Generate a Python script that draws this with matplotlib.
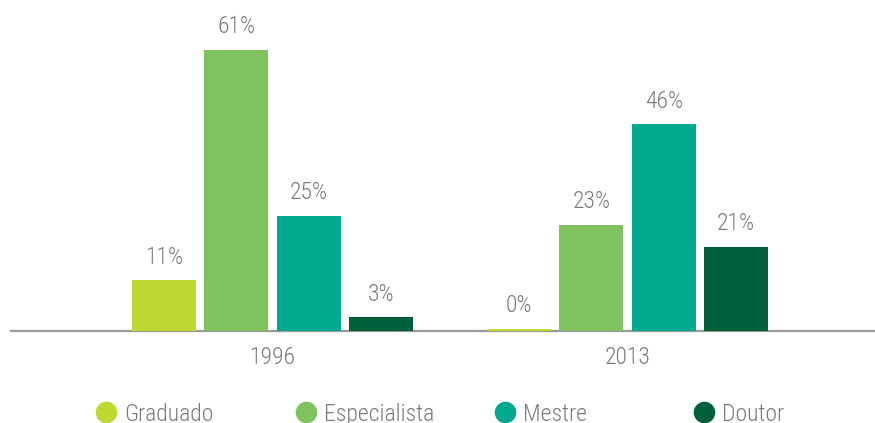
import matplotlib.pyplot as plt
from matplotlib.lines import Line2D
from matplotlib import font_manager
import numpy as np

installed = {f.name for f in font_manager.fontManager.ttflist}
cands = ['Roboto Condensed', 'Liberation Sans Narrow', 'Roboto']
plt.rcParams['font.family'] = [n for n in cands if n in installed][:1] + ['DejaVu Sans']
plt.rcParams['font.weight'] = 'light'

years = ['1996', '2013']
series = ['Graduado', 'Especialista', 'Mestre', 'Doutor']
# bar heights as drawn in the source picture (2013 bars are drawn shorter than their labels)
graduado = [11, 0.4]
especialista = [61, 23]
mestre = [25, 44.8]
doutor = [3, 18.3]
# labels printed over the bars
graduado_lbl = ['11%', '0%']
especialista_lbl = ['61%', '23%']
mestre_lbl = ['25%', '46%']
doutor_lbl = ['3%', '21%']

colors = ['#BFD730', '#80C35E', '#00A88E', '#006039']
TXT = '#7a7a7a'
FS = 17
W, H = 875, 423

fig = plt.figure(figsize=(W / 100, H / 100), dpi=100)
ax = fig.add_axes([11 / W, 1 - 331 / H, 864 / W, 331 / H])

x = np.arange(len(years))
pitch = 0.204
width = 0.180
values = [graduado, especialista, mestre, doutor]
labels = [graduado_lbl, especialista_lbl, mestre_lbl, doutor_lbl]
for i, (name, vals, lbls) in enumerate(zip(series, values, labels)):
    xs = x + (i - 1.5) * pitch
    ax.bar(xs, vals, width=width, color=colors[i], label=name, zorder=2)
    for xi, v, t in zip(xs, vals, lbls):
        ax.annotate(t, (xi, v), xytext=(0, 12),
                    textcoords='offset points', ha='center', va='baseline',
                    fontsize=FS, color=TXT)

ax.set_xlim(-0.7366, 1.697)
ax.set_ylim(0, 71.8)
ax.set_xticks(x)
ax.set_xticklabels(years)
ax.tick_params(axis='x', length=0, pad=11, labelsize=FS, labelcolor=TXT)
ax.set_yticks([])
for s in ['top', 'right', 'left']:
    ax.spines[s].set_visible(False)
ax.spines['bottom'].set_color('#999999')
ax.spines['bottom'].set_linewidth(1.6)
ax.spines['bottom'].set_zorder(1)

# legend, one entry per slot so the circles sit at even spacing
slots = [106, 306, 505, 704]
for i, name in enumerate(series):
    h = Line2D([], [], marker='o', linestyle='none', markersize=14.5,
               markerfacecolor=colors[i], markeredgecolor=colors[i])
    fig.legend([h], [name], loc='center left',
               bbox_to_anchor=((slots[i] - 10.4) / W, 1 - 414 / H),
               frameon=False, fontsize=FS, borderpad=0, borderaxespad=0,
               handlelength=0.87, handletextpad=0.35, labelcolor=TXT)

fig.savefig('out.png', dpi=100)
